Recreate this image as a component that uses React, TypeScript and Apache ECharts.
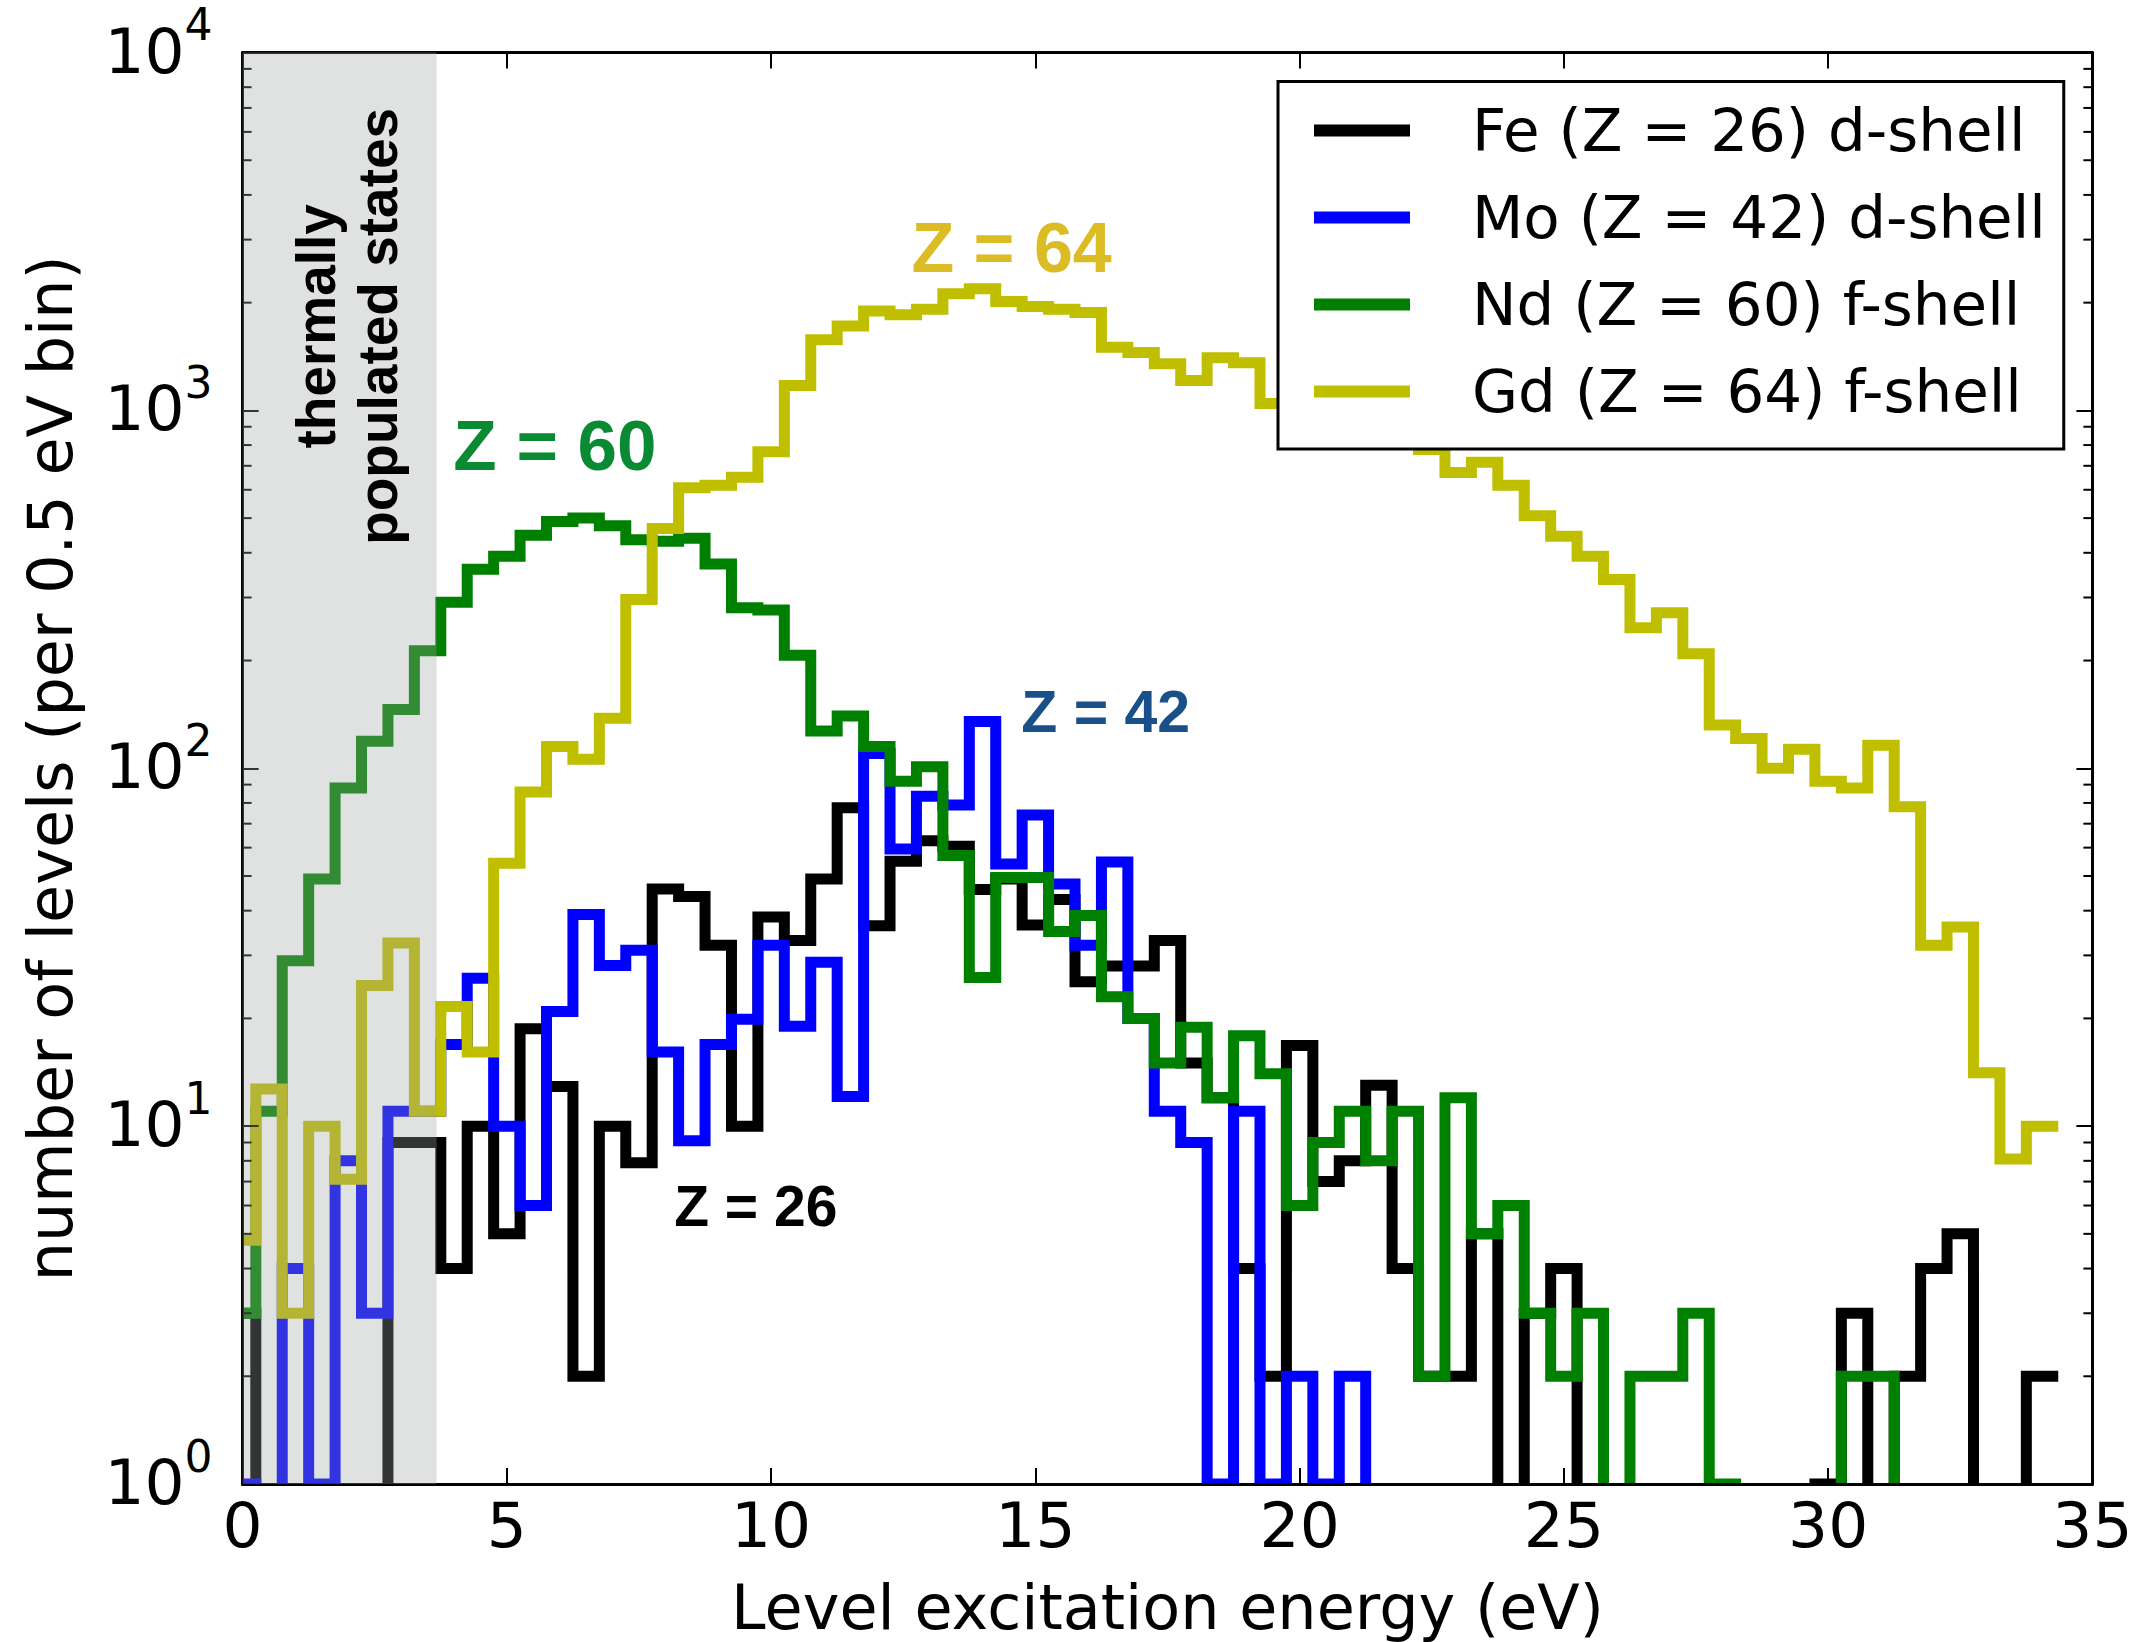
import React, { useEffect, useRef } from 'react';
import * as echarts from 'echarts';

const W = 2155;
const H = 1642;

// Histogram binning (0.5 eV bins); first bin starts just left of the axis.
const binStart = -0.25;
const binWidth = 0.5;

// Counts per 0.5 eV bin (bins from -0.25 eV to 34.25 eV).
const feCounts = [3, 0, 0, 0, 0, 0, 9, 9, 4, 10, 5, 18.7, 12.9, 2, 10, 7.9, 46, 43.8, 32, 10, 38.4, 33, 49, 77.5, 36.3, 55, 62.7, 60.5, 45.8, 49, 36.5, 43, 25.3, 28, 28, 33, 15, 12, 4, 2, 16.8, 7, 8, 13, 4, 2, 2, 5, 0, 3, 4, 0, 0, 0, 0, 0, 0, 0, 0, 0, 1, 3, 0, 2, 4, 5, 0, 0, 2];
const moCounts = [1, 0, 4, 1, 8, 3, 11, 11, 16.9, 25.9, 10, 6, 20.9, 39, 28.1, 31, 16.1, 9.1, 16.9, 19.9, 32, 19, 28.7, 12.1, 110, 59.5, 83.5, 79, 135, 54, 74, 47.5, 32, 54.7, 20, 11, 9, 1, 11, 1, 2, 1, 2, 0, 0, 0, 0, 0, 0, 0, 0, 0, 0, 0, 0, 0, 0, 0, 0, 0, 0, 0, 0, 0, 0, 0, 0, 0, 0];
const ndCounts = [3, 11, 29, 49, 88, 119, 146, 213, 291, 360, 391, 448, 489, 500, 476, 435, 431, 439, 372, 281, 277, 207, 127, 140, 115, 92, 101, 57, 26, 49.5, 49.5, 35, 38.8, 23, 20, 15, 18.9, 12, 17.9, 14, 6, 9, 11, 8, 11, 2, 12, 5, 6, 3, 2, 3, 0, 2, 2, 3, 1, 0, 0, 0, 0, 2, 2, 0, 0, 0, 0, 0, 0];
const gdCounts = [4.8, 12.7, 3, 10, 7.1, 24.7, 32.5, 11, 21.6, 16.1, 54.3, 85.8, 115, 106, 138, 296, 468, 608, 618, 650, 766, 1173, 1574, 1720, 1895, 1850, 1918, 2117, 2188, 2016, 1950, 1918, 1876, 1500, 1452, 1350, 1211, 1404, 1358, 1045, 1000, 960, 1000, 920, 900, 778, 671, 716, 618, 508, 445, 391, 337, 247, 272, 209, 132, 121, 100, 113, 92, 88, 116, 78, 32, 36, 14.1, 8.1, 10];

const seriesNames = ['Fe (Z = 26) d-shell', 'Mo (Z = 42) d-shell', 'Nd (Z = 60) f-shell', 'Gd (Z = 64) f-shell'];
const seriesColors = ['#000000', '#0000ff', '#008000', '#bfbf00'];
const countsList = [feCounts, moCounts, ndCounts, gdCounts];

// Axes
const xMin = 0;
const xMax = 35;
const xInterval = 5;
const yMin = 1;
const yMax = 10000;
const minorMultipliers = [2, 3, 4, 5, 6, 7, 8, 9];
const minorDecades = [1, 10, 100, 1000];

// Shaded region (thermally populated states), in eV
const thermalBand = [0, 3.67];

// Text annotations, in data coordinates
const annotations = [
  { x: 1.976, y: 1717, text: 'thermally\npopulated states', color: '#000000', size: 55, lineHeight: 62, rotate: true },
  { x: 5.91, y: 798, text: 'Z = 60', color: '#0a8a32', size: 71, lineHeight: 71, rotate: false },
  { x: 14.55, y: 2844, text: 'Z = 64', color: '#dcbc24', size: 70, lineHeight: 70, rotate: false },
  { x: 16.33, y: 144, text: 'Z = 42', color: '#1a508a', size: 59, lineHeight: 59, rotate: false },
  { x: 9.71, y: 6.0, text: 'Z = 26', color: '#000000', size: 57, lineHeight: 57, rotate: false },
];

const FLOOR = 0.1; // zero counts are drawn at 1/10, below the visible range (as matplotlib does)

function stepPoints(counts: number[]) {
  const pts: number[][] = [[binStart, FLOOR]];
  counts.forEach((c, i) => pts.push([binStart + i * binWidth, c > 0 ? c : FLOOR]));
  const last = counts[counts.length - 1];
  pts.push([binStart + counts.length * binWidth, last > 0 ? last : FLOOR]);
  return pts;
}

const minorTickValues: number[] = [];
minorDecades.forEach((d) => minorMultipliers.forEach((m) => minorTickValues.push(m * d)));

const FONT = 'DejaVu Sans';
const axisLineStyle = { color: '#000', width: 3 };
const tickStyle = { color: '#000', width: 2 };

function buildOption(): any {
  const lineSeries = countsList.map((counts, i) => ({
    name: seriesNames[i],
    type: 'line',
    step: 'end',
    data: stepPoints(counts),
    showSymbol: false,
    symbol: 'none',
    clip: true,
    silent: true,
    z: 2,
    lineStyle: { color: seriesColors[i], width: 11, cap: 'square', join: 'miter' },
    itemStyle: { color: seriesColors[i] },
  }));

  return {
    animation: false,
    backgroundColor: '#ffffff',
    grid: { left: 242.6, right: 62.6, top: 52.5, bottom: 158, containLabel: false, outerBoundsMode: 'none' },
    legend: {
      data: seriesNames.map((n) => ({ name: n, icon: 'rect' })),
      orient: 'vertical',
      left: 1278,
      top: 81.6,
      z: 6,
      padding: [19, 18, 27.5, 36],
      itemGap: 27,
      itemWidth: 96,
      itemHeight: 12,
      backgroundColor: '#ffffff',
      borderColor: '#000000',
      borderWidth: 3,
      borderRadius: 0,
      selectedMode: false,
      itemStyle: { borderWidth: 0 },
      textStyle: { fontSize: 59.5, fontFamily: FONT, color: '#000', padding: [0, 0, 0, 57], lineHeight: 59 },
    },
    xAxis: [
      {
        type: 'value',
        min: xMin,
        max: xMax,
        interval: xInterval,
        position: 'bottom',
        z: 4,
        axisLine: { show: true, onZero: false, lineStyle: axisLineStyle },
        axisTick: { show: true, inside: true, length: 16, lineStyle: tickStyle },
        axisLabel: { show: true, margin: 10, fontSize: 63, fontFamily: FONT, color: '#000' },
        splitLine: { show: false },
        name: 'Level excitation energy (eV)',
        nameLocation: 'middle',
        nameGap: 92,
        nameTextStyle: { fontSize: 62, fontFamily: FONT, color: '#000' },
      },
      {
        type: 'value',
        min: xMin,
        max: xMax,
        interval: xInterval,
        position: 'top',
        z: 4,
        axisLine: { show: true, onZero: false, lineStyle: axisLineStyle },
        axisTick: { show: true, inside: true, length: 16, lineStyle: tickStyle },
        axisLabel: { show: false },
        splitLine: { show: false },
      },
    ],
    yAxis: [
      {
        type: 'log',
        logBase: 10,
        min: yMin,
        max: yMax,
        position: 'left',
        z: 4,
        axisLine: { show: true, onZero: false, lineStyle: axisLineStyle },
        axisTick: { show: true, inside: true, length: 16, lineStyle: tickStyle },
        axisLabel: {
          show: true,
          margin: 30,
          formatter: (v: number) => `{b|10}{s|${Math.round(Math.log10(v))}}`,
          rich: {
            b: { fontSize: 63, fontFamily: FONT, color: '#000', lineHeight: 63, verticalAlign: 'bottom', padding: [0, 0, 1.5, 0] },
            s: { fontSize: 44, fontFamily: FONT, color: '#000', lineHeight: 45, verticalAlign: 'bottom', padding: [0, 0, 37.5, 0] },
          },
        },
        splitLine: { show: false },
        name: 'number of levels (per 0.5 eV bin)',
        nameLocation: 'middle',
        nameGap: 161,
        nameRotate: 90,
        nameTextStyle: { fontSize: 62, fontFamily: FONT, color: '#000' },
      },
      {
        type: 'log',
        logBase: 10,
        min: yMin,
        max: yMax,
        position: 'right',
        z: 4,
        axisLine: { show: true, onZero: false, lineStyle: axisLineStyle },
        axisTick: { show: true, inside: true, length: 16, lineStyle: tickStyle },
        axisLabel: { show: false },
        splitLine: { show: false },
      },
    ],
    series: [
      ...lineSeries,
      {
        // white strips just outside the plot box, hiding the clip margin of the thick lines
        type: 'custom',
        name: 'outer-mask',
        silent: true,
        clip: false,
        z: 3,
        data: [[xMin, yMin]],
        renderItem: (_p: any, api: any) => {
          const bl = api.coord([xMin, yMin]);
          const tr = api.coord([xMax, yMax]);
          return {
            type: 'group',
            children: [
              { type: 'rect', shape: { x: bl[0] - 16, y: tr[1] - 16, width: 14.4, height: bl[1] - tr[1] + 32 }, style: { fill: '#ffffff' } },
              { type: 'rect', shape: { x: bl[0] - 16, y: bl[1] + 1.6, width: tr[0] - bl[0] + 32, height: 12 }, style: { fill: '#ffffff' } },
            ],
          };
        },
      },
      {
        type: 'custom',
        name: 'minor-ticks',
        silent: true,
        clip: false,
        z: 4,
        data: minorTickValues.map((v) => [xMin, v]),
        renderItem: (_p: any, api: any) => {
          const v = api.value(1);
          const l = api.coord([xMin, v]);
          const r = api.coord([xMax, v]);
          return {
            type: 'group',
            children: [
              { type: 'line', shape: { x1: l[0], y1: l[1], x2: l[0] + 9, y2: l[1] }, style: { stroke: '#000', lineWidth: 2 } },
              { type: 'line', shape: { x1: r[0] - 9, y1: r[1], x2: r[0], y2: r[1] }, style: { stroke: '#000', lineWidth: 2 } },
            ],
          };
        },
      },
      {
        type: 'custom',
        name: 'thermal-band',
        silent: true,
        clip: false,
        z: 10,
        data: [[thermalBand[0], thermalBand[1]]],
        renderItem: (_p: any, api: any) => {
          const p0 = api.coord([api.value(0), yMax]);
          const p1 = api.coord([api.value(1), yMin]);
          return {
            type: 'rect',
            shape: { x: p0[0], y: p0[1], width: p1[0] - p0[0], height: p1[1] - p0[1] },
            style: { fill: 'rgba(160,163,162,0.32)' },
          };
        },
      },
      {
        type: 'custom',
        name: 'annotations',
        silent: true,
        clip: false,
        z: 11,
        data: annotations.map((a) => [a.x, a.y]),
        renderItem: (params: any, api: any) => {
          const a = annotations[params.dataIndex];
          const p = api.coord([a.x, a.y]);
          return {
            type: 'text',
            x: p[0],
            y: p[1],
            rotation: a.rotate ? Math.PI / 2 : 0,
            style: {
              text: a.text,
              fill: a.color,
              fontFamily: 'Liberation Sans',
              fontWeight: 'bold',
              fontSize: a.size,
              lineHeight: a.lineHeight,
              align: 'center',
              verticalAlign: 'middle',
            },
          };
        },
      },
    ],
  };
}

export default function App() {
  const ref = useRef<HTMLDivElement>(null);
  useEffect(() => {
    document.body.style.margin = '0';
    const chart = echarts.init(ref.current as HTMLDivElement, undefined, { renderer: 'svg', width: W, height: H });
    chart.setOption(buildOption());
    return () => chart.dispose();
  }, []);
  return <div ref={ref} style={{ width: W, height: H, position: 'absolute', left: 0, top: 0, background: '#fff' }} />;
}
